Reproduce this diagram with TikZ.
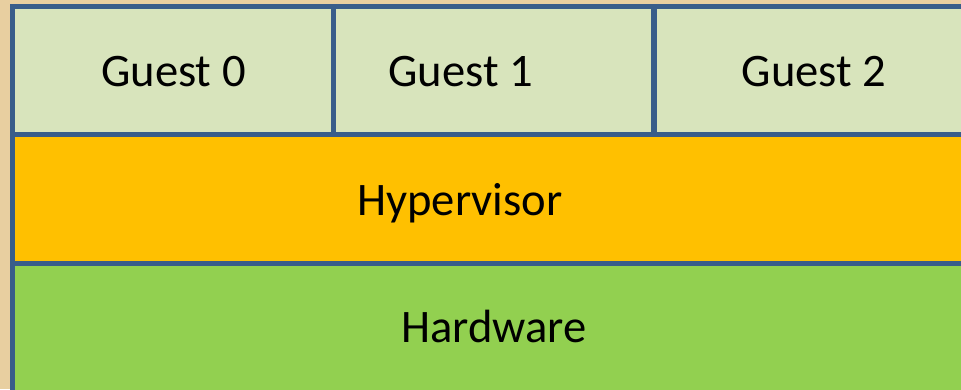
\documentclass[tikz,border=0pt]{standalone}
\usepackage{fontspec}
\setmainfont{Carlito}
\definecolor{parch}{HTML}{E8CFA0}
\definecolor{edge}{HTML}{385D8A}
\definecolor{guestfill}{HTML}{D8E4BC}
\definecolor{hypfill}{HTML}{FFC000}
\definecolor{hwfill}{HTML}{92D050}
\tikzset{
  layerbox/.style={draw=edge, line width=5.5pt},
  lbl/.style={anchor=base, inner sep=0pt, font=\fontsize{46.6}{56}\selectfont, text=black}
}
\begin{document}
\begin{tikzpicture}[x=1pt,y=-1pt]
\useasboundingbox (0,0) rectangle (961,389);
\fill[parch] (0,0) rectangle (961,389);
\begin{scope}
\clip (0,0) rectangle (961,389);
\fill[guestfill] (12.5,6.5) rectangle (980,134.5);
\fill[hypfill] (12.5,134.5) rectangle (980,263.5);
\fill[hwfill] (12.5,263.5) rectangle (980,400);
\draw[layerbox] (12.5,6.5) rectangle (333.5,134.5);
\draw[layerbox] (333.5,6.5) rectangle (654,134.5);
\draw[layerbox] (654,6.5) rectangle (990,134.5);
\draw[layerbox] (12.5,134.5) rectangle (990,263.5);
\draw[layerbox] (12.5,263.5) rectangle (990,410);
\end{scope}
\node[lbl] (g0) at (173.4,86.7) {Guest 0};
\node[lbl] (g1) at (460.5,86.7) {Guest 1};
\node[lbl] (g2) at (813.9,86.7) {Guest 2};
\node[lbl] (hyp) at (460,215) {Hypervisor};
\node[lbl] (hw) at (494,342.7) {Hardware};
\end{tikzpicture}
\end{document}
